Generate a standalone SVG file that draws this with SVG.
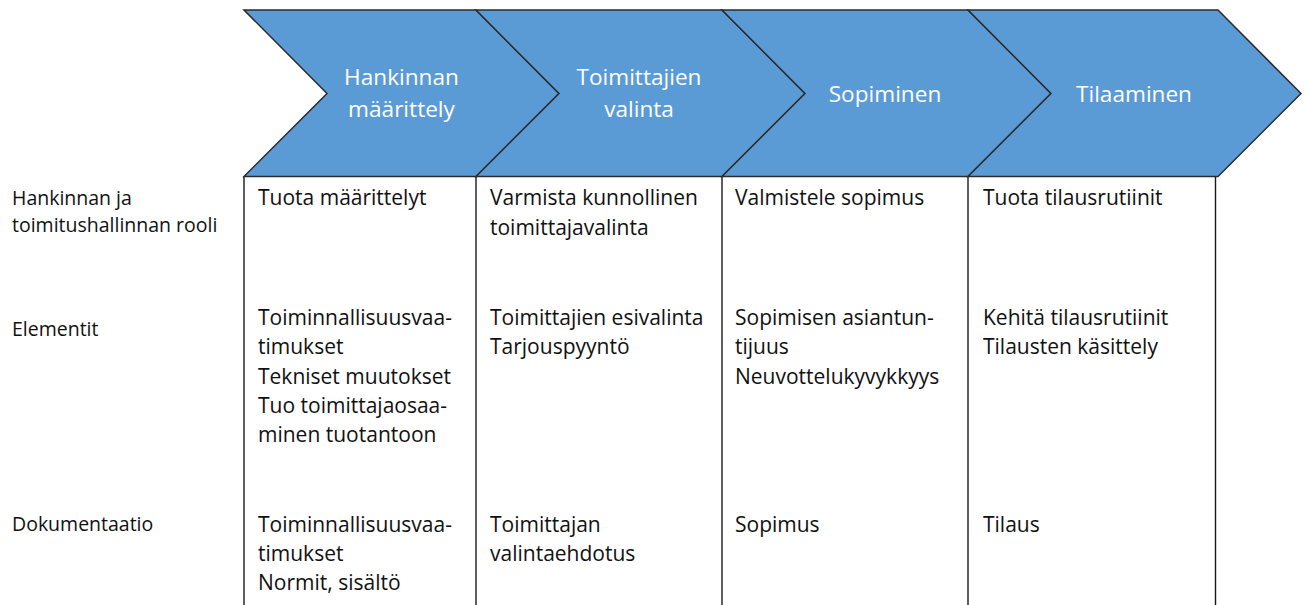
<svg xmlns="http://www.w3.org/2000/svg" width="1308" height="605" viewBox="0 0 1308 605">
  <style>
    .chev { fill: #5B9BD5; stroke: #2b2b2b; stroke-width: 1.5; stroke-linejoin: miter; }
    .head { font-family: "Open Sans", "Noto Sans", sans-serif; font-size: 22.6px; fill: #ffffff; text-anchor: middle; }
    .cell { font-family: "Open Sans", "Noto Sans", sans-serif; font-size: 21px; fill: #111111; }
    .rowlbl { font-family: "Open Sans", "Noto Sans", sans-serif; font-size: 19.5px; fill: #111111; }
    .rule { stroke: #1a1a1a; stroke-width: 1.4; fill: none; }
  </style>
  <rect width="1308" height="605" fill="#ffffff"/>

  <!-- column dividers under the process arrows -->
  <g id="grid">
    <line class="rule" x1="244" y1="176.5" x2="244" y2="605"/>
    <line class="rule" x1="476" y1="176.5" x2="476" y2="605"/>
    <line class="rule" x1="722" y1="176.5" x2="722" y2="605"/>
    <line class="rule" x1="968" y1="176.5" x2="968" y2="605"/>
    <line class="rule" x1="1215.5" y1="176.5" x2="1215.5" y2="605"/>
  </g>

  <!-- row headings -->
  <g id="row-labels">
    <text class="rowlbl" x="12" y="205">Hankinnan ja</text>
    <text class="rowlbl" x="12" y="231.5">toimitushallinnan rooli</text>
    <text class="rowlbl" x="12" y="335.5">Elementit</text>
    <text class="rowlbl" x="12" y="530.5">Dokumentaatio</text>
  </g>

  <!-- stage 1 -->
  <g id="stage-maarittely">
    <path class="chev" d="M244,10 L476,10 L559,93.5 L476,176.5 L244,176.5 L327,93.5 Z"/>
    <text class="head" x="401.5" y="85">Hankinnan</text>
    <text class="head" x="401.5" y="116.5">määrittely</text>
    <text class="cell" x="258" y="205">Tuota määrittelyt</text>
    <text class="cell" x="258" y="325">Toiminnallisuusvaa-</text>
    <text class="cell" x="258" y="354.3">timukset</text>
    <text class="cell" x="258" y="383.6">Tekniset muutokset</text>
    <text class="cell" x="258" y="412.9">Tuo toimittajaosaa-</text>
    <text class="cell" x="258" y="442.2">minen tuotantoon</text>
    <text class="cell" x="258" y="531.5">Toiminnallisuusvaa-</text>
    <text class="cell" x="258" y="560.8">timukset</text>
    <text class="cell" x="258" y="590">Normit, sisältö</text>
  </g>

  <!-- stage 2 -->
  <g id="stage-valinta">
    <path class="chev" d="M476,10 L722,10 L805,93.5 L722,176.5 L476,176.5 L559,93.5 Z"/>
    <text class="head" x="639" y="85">Toimittajien</text>
    <text class="head" x="639" y="116.5">valinta</text>
    <text class="cell" x="490" y="205">Varmista kunnollinen</text>
    <text class="cell" x="490" y="234.5">toimittajavalinta</text>
    <text class="cell" x="490" y="325">Toimittajien esivalinta</text>
    <text class="cell" x="490" y="354.3">Tarjouspyyntö</text>
    <text class="cell" x="490" y="531.5">Toimittajan</text>
    <text class="cell" x="490" y="560.8">valintaehdotus</text>
  </g>

  <!-- stage 3 -->
  <g id="stage-sopiminen">
    <path class="chev" d="M722,10 L968,10 L1051,93.5 L968,176.5 L722,176.5 L805,93.5 Z"/>
    <text class="head" x="885" y="101.5">Sopiminen</text>
    <text class="cell" x="735" y="205">Valmistele sopimus</text>
    <text class="cell" x="735" y="325">Sopimisen asiantun-</text>
    <text class="cell" x="735" y="354.3">tijuus</text>
    <text class="cell" x="735" y="383.6">Neuvottelukyvykkyys</text>
    <text class="cell" x="735" y="531.5">Sopimus</text>
  </g>

  <!-- stage 4 -->
  <g id="stage-tilaaminen">
    <path class="chev" d="M968,10 L1218,10 L1301,93.5 L1218,176.5 L968,176.5 L1051,93.5 Z"/>
    <text class="head" x="1134" y="101.5">Tilaaminen</text>
    <text class="cell" x="983" y="205">Tuota tilausrutiinit</text>
    <text class="cell" x="983" y="325">Kehitä tilausrutiinit</text>
    <text class="cell" x="983" y="354.3">Tilausten käsittely</text>
    <text class="cell" x="983" y="531.5">Tilaus</text>
  </g>

  <g id="connectors"/>
</svg>
